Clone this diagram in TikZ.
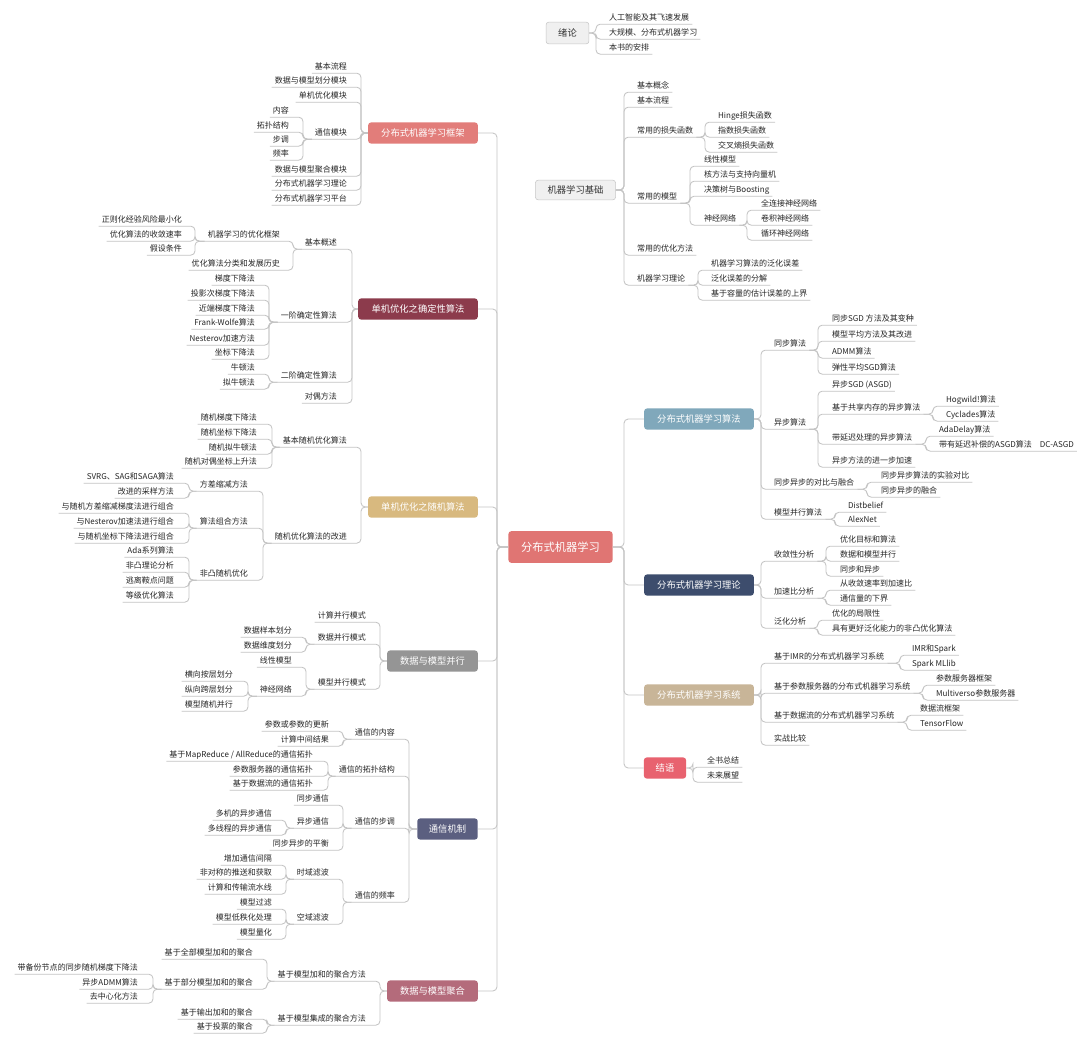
\documentclass[tikz,border=0pt]{standalone}
\usepackage{fontspec}
\setmainfont{Noto Sans CJK SC}
\definecolor{croot}{HTML}{E07573}
\definecolor{cframe}{HTML}{E27D7A}
\definecolor{cdet}{HTML}{8C3B4C}
\definecolor{csto}{HTML}{D8B97F}
\definecolor{cpar}{HTML}{959595}
\definecolor{ccomm}{HTML}{5B5F80}
\definecolor{cagg}{HTML}{B46B7B}
\definecolor{calgo}{HTML}{80A8BB}
\definecolor{ctheory}{HTML}{3D4D6D}
\definecolor{csys}{HTML}{C8B598}
\definecolor{cconcl}{HTML}{E8626F}
\definecolor{cline}{HTML}{C4C4C4}
\tikzset{
  conn/.style={draw=cline, line width=0.6pt, rounded corners=3pt},
  topic/.style={rounded corners=2pt, text=white, font=\fontsize{6.6}{8}\selectfont, minimum height=15pt, inner sep=0pt},
  ftopic/.style={topic, fill=black!6, draw=black!22, text=black!80},
  rleaf/.style={anchor=west, inner xsep=2pt, inner ysep=1.2pt, font=\fontsize{5.7}{6.5}\selectfont, text=black!85, text height=5pt, text depth=1pt},
  lleaf/.style={rleaf, anchor=east},
}
\begin{document}
\begin{tikzpicture}[x={(0.025cm,0)}, y={(0,-0.025cm)}]
  \fill[white] (0,0) rectangle (1080,1046);
  \useasboundingbox (0,0) rectangle (1080,1046);

  % root and main topics
  \node[topic, fill=croot, minimum width=74pt, minimum height=22.5pt, font=\fontsize{8}{9}\selectfont] (root) at (560.5,547) {分布式机器学习};
  \node[topic, fill=cframe, minimum width=78pt] (frame) at (423,133) {分布式机器学习框架};
  \node[topic, fill=cdet, minimum width=85pt] (det) at (418,309) {单机优化之确定性算法};
  \node[topic, fill=csto, minimum width=78pt] (sto) at (423,507) {单机优化之随机算法};
  \node[topic, fill=cpar, minimum width=64.5pt] (par) at (432.5,661) {数据与模型并行};
  \node[topic, fill=ccomm, minimum width=43pt] (comm) at (447.5,829) {通信机制};
  \node[topic, fill=cagg, minimum width=64.5pt] (agg) at (432.5,991) {数据与模型聚合};
  \node[topic, fill=calgo, minimum width=78pt] (algo) at (699,419) {分布式机器学习算法};
  \node[topic, fill=ctheory, minimum width=78pt] (theory) at (699,585) {分布式机器学习理论};
  \node[topic, fill=csys, minimum width=78pt] (system) at (699,695) {分布式机器学习系统};
  \node[topic, fill=cconcl, minimum width=30pt] (concl) at (665,768) {结语};
  \node[ftopic, minimum width=30.5pt, minimum height=15.5pt] (intro) at (567.5,33) {绪论};
  \node[ftopic, minimum width=57pt, minimum height=14pt] (basic) at (575.5,190) {机器学习基础};

  % spines
  \coordinate (sLeft) at (497,0);
  \coordinate (sRight) at (624,0);
  \foreach \t in {frame,det,sto,par,comm,agg}
    \draw[conn] (root.west) -- (root.west -| sLeft) |- (\t.east);
  \foreach \t in {algo,theory,system,concl}
    \draw[conn] (root.east) -- (root.east -| sRight) |- (\t.west);

  % 绪论
  \coordinate (sIntro) at (596,0);
  \node[rleaf] (intro1) at (606,18) {人工智能及其飞速发展};
  \node[rleaf] (intro2) at (606,33) {大规模、分布式机器学习};
  \node[rleaf] (intro3) at (606,48) {本书的安排};
  \foreach \c in {intro1,intro2,intro3}
    \draw[conn] (intro.east) -- (intro.east -| sIntro) |- (\c.south west) -- (\c.south east);

  % 机器学习基础
  \coordinate (sBasic) at (624,0);
  \node[rleaf] (bConcept) at (634,86) {基本概念};
  \node[rleaf] (bFlow) at (634,101) {基本流程};
  \node[rleaf] (bLoss) at (634,131) {常用的损失函数};
  \node[rleaf] (bModel) at (634,197) {常用的模型};
  \node[rleaf] (bOpt) at (634,249) {常用的优化方法};
  \node[rleaf] (bTheory) at (634,279) {机器学习理论};
  \foreach \c in {bConcept,bFlow,bLoss,bModel,bOpt,bTheory}
    \draw[conn] (basic.east) -- (basic.east -| sBasic) |- (\c.south west) -- (\c.south east);
  \coordinate (sLoss) at (705,0);
  \node[rleaf] (lHinge) at (715,116) {Hinge损失函数};
  \node[rleaf] (lExp) at (715,131) {指数损失函数};
  \node[rleaf] (lXent) at (715,146) {交叉熵损失函数};
  \foreach \c in {lHinge,lExp,lXent}
    \draw[conn] (bLoss.south east) -- (bLoss.south east -| sLoss) |- (\c.south west) -- (\c.south east);
  \coordinate (sModel) at (690,0);
  \node[rleaf] (mLin) at (701,160) {线性模型};
  \node[rleaf] (mKernel) at (701,175) {核方法与支持向量机};
  \node[rleaf] (mTree) at (701,190) {决策树与Boosting};
  \node[rleaf] (mNN) at (701,219) {神经网络};
  \foreach \c in {mLin,mKernel,mTree,mNN}
    \draw[conn] (bModel.south east) -- (bModel.south east -| sModel) |- (\c.south west) -- (\c.south east);
  \coordinate (sNN) at (747,0);
  \node[rleaf] (nnFC) at (758,204) {全连接神经网络};
  \node[rleaf] (nnCNN) at (758,219) {卷积神经网络};
  \node[rleaf] (nnRNN) at (758,234) {循环神经网络};
  \foreach \c in {nnFC,nnCNN,nnRNN}
    \draw[conn] (mNN.south east) -- (mNN.south east -| sNN) |- (\c.south west) -- (\c.south east);
  \coordinate (sTheory) at (698,0);
  \node[rleaf] (tGen) at (708,264) {机器学习算法的泛化误差};
  \node[rleaf] (tDec) at (708,279) {泛化误差的分解};
  \node[rleaf] (tBound) at (708,294) {基于容量的估计误差的上界};
  \foreach \c in {tGen,tDec,tBound}
    \draw[conn] (bTheory.south east) -- (bTheory.south east -| sTheory) |- (\c.south west) -- (\c.south east);

  % 分布式机器学习算法
  \coordinate (sAlgo) at (761,0);
  \node[rleaf] (aSync) at (771,344) {同步算法};
  \node[rleaf] (aAsync) at (771,423) {异步算法};
  \node[rleaf] (aCmp) at (771,483) {同步异步的对比与融合};
  \node[rleaf] (aMP) at (771,513) {模型并行算法};
  \foreach \c in {aSync,aAsync,aCmp,aMP}
    \draw[conn] (algo.east) -- (algo.east -| sAlgo) |- (\c.south west) -- (\c.south east);
  \coordinate (sSync) at (818,0);
  \node[rleaf] (sy1) at (829,319) {同步SGD 方法及其变种};
  \node[rleaf] (sy2) at (829,335) {模型平均方法及其改进};
  \node[rleaf] (sy3) at (829,352) {ADMM算法};
  \node[rleaf] (sy4) at (829,368) {弹性平均SGD算法};
  \foreach \c in {sy1,sy2,sy3,sy4}
    \draw[conn] (aSync.south east) -- (aSync.south east -| sSync) |- (\c.south west) -- (\c.south east);
  \node[rleaf] (as1) at (829,385) {异步SGD (ASGD)};
  \node[rleaf] (as2) at (829,408) {基于共享内存的异步算法};
  \node[rleaf] (as3) at (829,438) {带延迟处理的异步算法};
  \node[rleaf] (as4) at (829,461) {异步方法的进一步加速};
  \foreach \c in {as1,as2,as3,as4}
    \draw[conn] (aAsync.south east) -- (aAsync.south east -| sSync) |- (\c.south west) -- (\c.south east);
  \coordinate (sShm) at (933,0);
  \node[rleaf] (hog) at (943,400) {Hogwild!算法};
  \node[rleaf] (cyc) at (943,415) {Cyclades算法};
  \foreach \c in {hog,cyc}
    \draw[conn] (as2.south east) -- (as2.south east -| sShm) |- (\c.south west) -- (\c.south east);
  \coordinate (sDelay) at (926,0);
  \node[rleaf] (adad) at (936,430) {AdaDelay算法};
  \node[rleaf] (dcasgd) at (936,445) {带有延迟补偿的ASGD算法\quad DC-ASGD};
  \foreach \c in {adad,dcasgd}
    \draw[conn] (as3.south east) -- (as3.south east -| sDelay) |- (\c.south west) -- (\c.south east);
  \coordinate (sCmp) at (867,0);
  \node[rleaf] (cmp1) at (878,476) {同步异步算法的实验对比};
  \node[rleaf] (cmp2) at (878,491) {同步异步的融合};
  \foreach \c in {cmp1,cmp2}
    \draw[conn] (aCmp.south east) -- (aCmp.south east -| sCmp) |- (\c.south west) -- (\c.south east);
  \coordinate (sMPA) at (835,0);
  \node[rleaf] (distb) at (845,506) {Distbelief};
  \node[rleaf] (alex) at (845,520) {AlexNet};
  \foreach \c in {distb,alex}
    \draw[conn] (aMP.south east) -- (aMP.south east -| sMPA) |- (\c.south west) -- (\c.south east);

  % 分布式机器学习理论
  \node[rleaf] (thConv) at (771,555) {收敛性分析};
  \node[rleaf] (thSpeed) at (771,592) {加速比分析};
  \node[rleaf] (thGen) at (771,622) {泛化分析};
  \foreach \c in {thConv,thSpeed,thGen}
    \draw[conn] (theory.east) -- (theory.east -| sAlgo) |- (\c.south west) -- (\c.south east);
  \coordinate (sConv) at (826,0);
  \node[rleaf] (cv1) at (837,540) {优化目标和算法};
  \node[rleaf] (cv2) at (837,555) {数据和模型并行};
  \node[rleaf] (cv3) at (837,570) {同步和异步};
  \foreach \c in {cv1,cv2,cv3}
    \draw[conn] (thConv.south east) -- (thConv.south east -| sConv) |- (\c.south west) -- (\c.south east);
  \node[rleaf] (sp1) at (837,584) {从收敛速率到加速比};
  \node[rleaf] (sp2) at (837,599) {通信量的下界};
  \foreach \c in {sp1,sp2}
    \draw[conn] (thSpeed.south east) -- (thSpeed.south east -| sConv) |- (\c.south west) -- (\c.south east);
  \node[rleaf] (gn1) at (829,614) {优化的局限性};
  \node[rleaf] (gn2) at (829,629) {具有更好泛化能力的非凸优化算法};
  \foreach \c in {gn1,gn2}
    \draw[conn] (thGen.south east) -- (thGen.south east -| sSync) |- (\c.south west) -- (\c.south east);

  % 分布式机器学习系统
  \node[rleaf] (syIMR) at (771,657) {基于IMR的分布式机器学习系统};
  \node[rleaf] (syPS) at (771,687) {基于参数服务器的分布式机器学习系统};
  \node[rleaf] (syDF) at (771,716) {基于数据流的分布式机器学习系统};
  \node[rleaf] (syCmp) at (771,739) {实战比较};
  \foreach \c in {syIMR,syPS,syDF,syCmp}
    \draw[conn] (system.east) -- (system.east -| sAlgo) |- (\c.south west) -- (\c.south east);
  \coordinate (sIMR) at (900,0);
  \node[rleaf] (imr1) at (909,649) {IMR和Spark};
  \node[rleaf] (imr2) at (909,664) {Spark MLlib};
  \foreach \c in {imr1,imr2}
    \draw[conn] (syIMR.south east) -- (syIMR.south east -| sIMR) |- (\c.south west) -- (\c.south east);
  \coordinate (sPS) at (923,0);
  \node[rleaf] (ps1) at (933,679) {参数服务器框架};
  \node[rleaf] (ps2) at (933,694) {Multiverso参数服务器};
  \foreach \c in {ps1,ps2}
    \draw[conn] (syPS.south east) -- (syPS.south east -| sPS) |- (\c.south west) -- (\c.south east);
  \coordinate (sDF) at (907,0);
  \node[rleaf] (df1) at (917,709) {数据流框架};
  \node[rleaf] (df2) at (917,724) {TensorFlow};
  \foreach \c in {df1,df2}
    \draw[conn] (syDF.south east) -- (syDF.south east -| sDF) |- (\c.south west) -- (\c.south east);

  % 结语
  \coordinate (sEnd) at (693,0);
  \node[rleaf] (end1) at (704,761) {全书总结};
  \node[rleaf] (end2) at (704,776) {未来展望};
  \foreach \c in {end1,end2}
    \draw[conn] (concl.east) -- (concl.east -| sEnd) |- (\c.south west) -- (\c.south east);

  % 分布式机器学习框架
  \coordinate (sFrame) at (361,0);
  \node[lleaf] (fr1) at (350,67) {基本流程};
  \node[lleaf] (fr2) at (350,81) {数据与模型划分模块};
  \node[lleaf] (fr3) at (350,96) {单机优化模块};
  \node[lleaf] (fr4) at (350,133) {通信模块};
  \node[lleaf] (fr5) at (350,170) {数据与模型聚合模块};
  \node[lleaf] (fr6) at (350,184) {分布式机器学习理论};
  \node[lleaf] (fr7) at (350,199) {分布式机器学习平台};
  \foreach \c in {fr1,fr2,fr3,fr4,fr5,fr6,fr7}
    \draw[conn] (frame.west) -- (frame.west -| sFrame) |- (\c.south east) -- (\c.south west);
  \coordinate (sCommMod) at (303,0);
  \node[lleaf] (cm1) at (292,111) {内容};
  \node[lleaf] (cm2) at (292,126) {拓扑结构};
  \node[lleaf] (cm3) at (292,140) {步调};
  \node[lleaf] (cm4) at (292,154) {频率};
  \foreach \c in {cm1,cm2,cm3,cm4}
    \draw[conn] (fr4.south west) -- (fr4.south west -| sCommMod) |- (\c.south east) -- (\c.south west);

  % 单机优化之确定性算法
  \coordinate (sDet) at (352,0);
  \node[lleaf] (dOver) at (340,243) {基本概述};
  \node[lleaf] (dFirst) at (340,316) {一阶确定性算法};
  \node[lleaf] (dSecond) at (340,376) {二阶确定性算法};
  \node[lleaf] (dDual) at (340,397) {对偶方法};
  \foreach \c in {dOver,dFirst,dSecond,dDual}
    \draw[conn] (det.west) -- (det.west -| sDet) |- (\c.south east) -- (\c.south west);
  \coordinate (sOver) at (293,0);
  \node[lleaf] (ov1) at (283,235) {机器学习的优化框架};
  \node[lleaf] (ov2) at (283,264) {优化算法分类和发展历史};
  \foreach \c in {ov1,ov2}
    \draw[conn] (dOver.south west) -- (dOver.south west -| sOver) |- (\c.south east) -- (\c.south west);
  \coordinate (sOF) at (195,0);
  \node[lleaf] (of1) at (185,220) {正则化经验风险最小化};
  \node[lleaf] (of2) at (185,235) {优化算法的收敛速率};
  \node[lleaf] (of3) at (185,249) {假设条件};
  \foreach \c in {of1,of2,of3}
    \draw[conn] (ov1.south west) -- (ov1.south west -| sOF) |- (\c.south east) -- (\c.south west);
  \coordinate (sFirst) at (269,0);
  \node[lleaf] (fo1) at (258,279) {梯度下降法};
  \node[lleaf] (fo2) at (258,294) {投影次梯度下降法};
  \node[lleaf] (fo3) at (258,309) {近端梯度下降法};
  \node[lleaf] (fo4) at (258,323) {Frank-Wolfe算法};
  \node[lleaf] (fo5) at (258,339) {Nesterov加速方法};
  \node[lleaf] (fo6) at (258,353) {坐标下降法};
  \foreach \c in {fo1,fo2,fo3,fo4,fo5,fo6}
    \draw[conn] (dFirst.south west) -- (dFirst.south west -| sFirst) |- (\c.south east) -- (\c.south west);
  \node[lleaf] (so1) at (258,368) {牛顿法};
  \node[lleaf] (so2) at (258,383) {拟牛顿法};
  \foreach \c in {so1,so2}
    \draw[conn] (dSecond.south west) -- (dSecond.south west -| sFirst) |- (\c.south east) -- (\c.south west);

  % 单机优化之随机算法
  \node[lleaf] (sBase) at (350,441) {基本随机优化算法};
  \node[lleaf] (sImp) at (350,537) {随机优化算法的改进};
  \foreach \c in {sBase,sImp}
    \draw[conn] (sto.west) -- (sto.west -| sFrame) |- (\c.south east) -- (\c.south west);
  \coordinate (sBaseS) at (272,0);
  \node[lleaf] (bs1) at (260,418) {随机梯度下降法};
  \node[lleaf] (bs2) at (260,433) {随机坐标下降法};
  \node[lleaf] (bs3) at (260,448) {随机拟牛顿法};
  \node[lleaf] (bs4) at (260,462) {随机对偶坐标上升法};
  \foreach \c in {bs1,bs2,bs3,bs4}
    \draw[conn] (sBase.south west) -- (sBase.south west -| sBaseS) |- (\c.south east) -- (\c.south west);
  \coordinate (sImpS) at (263,0);
  \node[lleaf] (im1) at (251,485) {方差缩减方法};
  \node[lleaf] (im2) at (251,522) {算法组合方法};
  \node[lleaf] (im3) at (251,574) {非凸随机优化};
  \foreach \c in {im1,im2,im3}
    \draw[conn] (sImp.south west) -- (sImp.south west -| sImpS) |- (\c.south east) -- (\c.south west);
  \coordinate (sVR) at (189,0);
  \node[lleaf] (vr1) at (177,477) {SVRG、SAG和SAGA算法};
  \node[lleaf] (vr2) at (177,492) {改进的采样方法};
  \foreach \c in {vr1,vr2}
    \draw[conn] (im1.south west) -- (im1.south west -| sVR) |- (\c.south east) -- (\c.south west);
  \node[lleaf] (co1) at (177,507) {与随机方差缩减梯度法进行组合};
  \node[lleaf] (co2) at (177,522) {与Nesterov加速法进行组合};
  \node[lleaf] (co3) at (177,537) {与随机坐标下降法进行组合};
  \foreach \c in {co1,co2,co3}
    \draw[conn] (im2.south west) -- (im2.south west -| sVR) |- (\c.south east) -- (\c.south west);
  \node[lleaf] (nc1) at (177,551) {Ada系列算法};
  \node[lleaf] (nc2) at (177,566) {非凸理论分析};
  \node[lleaf] (nc3) at (177,581) {逃离鞍点问题};
  \node[lleaf] (nc4) at (177,596) {等级优化算法};
  \foreach \c in {nc1,nc2,nc3,nc4}
    \draw[conn] (im3.south west) -- (im3.south west -| sVR) |- (\c.south east) -- (\c.south west);

  % 数据与模型并行
  \coordinate (sPar) at (380,0);
  \node[lleaf] (pa1) at (369,616) {计算并行模式};
  \node[lleaf] (pa2) at (369,638) {数据并行模式};
  \node[lleaf] (pa3) at (369,683) {模型并行模式};
  \foreach \c in {pa1,pa2,pa3}
    \draw[conn] (par.west) -- (par.west -| sPar) |- (\c.south east) -- (\c.south west);
  \coordinate (sDP) at (306,0);
  \node[lleaf] (dp1) at (295,631) {数据样本划分};
  \node[lleaf] (dp2) at (295,646) {数据维度划分};
  \foreach \c in {dp1,dp2}
    \draw[conn] (pa2.south west) -- (pa2.south west -| sDP) |- (\c.south east) -- (\c.south west);
  \node[lleaf] (mp1) at (295,661) {线性模型};
  \node[lleaf] (mp2) at (295,690) {神经网络};
  \foreach \c in {mp1,mp2}
    \draw[conn] (pa3.south west) -- (pa3.south west -| sDP) |- (\c.south east) -- (\c.south west);
  \coordinate (sNNP) at (248,0);
  \node[lleaf] (np1) at (236,675) {横向按层划分};
  \node[lleaf] (np2) at (236,690) {纵向跨层划分};
  \node[lleaf] (np3) at (236,705) {模型随机并行};
  \foreach \c in {np1,np2,np3}
    \draw[conn] (mp2.south west) -- (mp2.south west -| sNNP) |- (\c.south east) -- (\c.south west);

  % 通信机制
  \coordinate (sCM) at (409,0);
  \node[lleaf] (cmCont) at (398,733) {通信的内容};
  \node[lleaf] (cmTopo) at (398,770) {通信的拓扑结构};
  \node[lleaf] (cmPace) at (398,822) {通信的步调};
  \node[lleaf] (cmFreq) at (398,896) {通信的频率};
  \foreach \c in {cmCont,cmTopo,cmPace,cmFreq}
    \draw[conn] (comm.west) -- (comm.west -| sCM) |- (\c.south east) -- (\c.south west);
  \coordinate (sCont) at (343,0);
  \node[lleaf] (ct1) at (332,725) {参数或参数的更新};
  \node[lleaf] (ct2) at (332,740) {计算中间结果};
  \foreach \c in {ct1,ct2}
    \draw[conn] (cmCont.south west) -- (cmCont.south west -| sCont) |- (\c.south east) -- (\c.south west);
  \coordinate (sTopo) at (328,0);
  \node[lleaf] (tp1) at (316,755) {基于MapReduce / AllReduce的通信拓扑};
  \node[lleaf] (tp2) at (316,770) {参数服务器的通信拓扑};
  \node[lleaf] (tp3) at (316,784) {基于数据流的通信拓扑};
  \foreach \c in {tp1,tp2,tp3}
    \draw[conn] (cmTopo.south west) -- (cmTopo.south west -| sTopo) |- (\c.south east) -- (\c.south west);
  \node[lleaf] (pc1) at (332,799) {同步通信};
  \node[lleaf] (pc2) at (332,822) {异步通信};
  \node[lleaf] (pc3) at (332,844) {同步异步的平衡};
  \foreach \c in {pc1,pc2,pc3}
    \draw[conn] (cmPace.south west) -- (cmPace.south west -| sCont) |- (\c.south east) -- (\c.south west);
  \coordinate (sAC) at (286,0);
  \node[lleaf] (ac1) at (275,814) {多机的异步通信};
  \node[lleaf] (ac2) at (275,829) {多线程的异步通信};
  \foreach \c in {ac1,ac2}
    \draw[conn] (pc2.south west) -- (pc2.south west -| sAC) |- (\c.south east) -- (\c.south west);
  \node[lleaf] (fq1) at (332,873) {时域滤波};
  \node[lleaf] (fq2) at (332,918) {空域滤波};
  \foreach \c in {fq1,fq2}
    \draw[conn] (cmFreq.south west) -- (cmFreq.south west -| sCont) |- (\c.south east) -- (\c.south west);
  \node[lleaf] (tf1) at (275,859) {增加通信间隔};
  \node[lleaf] (tf2) at (275,873) {非对称的推送和获取};
  \node[lleaf] (tf3) at (275,888) {计算和传输流水线};
  \foreach \c in {tf1,tf2,tf3}
    \draw[conn] (fq1.south west) -- (fq1.south west -| sAC) |- (\c.south east) -- (\c.south west);
  \node[lleaf] (sf1) at (275,903) {模型过滤};
  \node[lleaf] (sf2) at (275,918) {模型低秩化处理};
  \node[lleaf] (sf3) at (275,933) {模型量化};
  \foreach \c in {sf1,sf2,sf3}
    \draw[conn] (fq2.south west) -- (fq2.south west -| sAC) |- (\c.south east) -- (\c.south west);

  % 数据与模型聚合
  \node[lleaf] (agSum) at (369,975) {基于模型加和的聚合方法};
  \node[lleaf] (agEns) at (369,1019) {基于模型集成的聚合方法};
  \foreach \c in {agSum,agEns}
    \draw[conn] (agg.west) -- (agg.west -| sPar) |- (\c.south east) -- (\c.south west);
  \coordinate (sSum) at (267,0);
  \node[lleaf] (su1) at (256,953) {基于全部模型加和的聚合};
  \node[lleaf] (su2) at (256,983) {基于部分模型加和的聚合};
  \foreach \c in {su1,su2}
    \draw[conn] (agSum.south west) -- (agSum.south west -| sSum) |- (\c.south east) -- (\c.south west);
  \coordinate (sPart) at (153,0);
  \node[lleaf] (pt1) at (141,968) {带备份节点的同步随机梯度下降法};
  \node[lleaf] (pt2) at (141,983) {异步ADMM算法};
  \node[lleaf] (pt3) at (141,997) {去中心化方法};
  \foreach \c in {pt1,pt2,pt3}
    \draw[conn] (su2.south west) -- (su2.south west -| sPart) |- (\c.south east) -- (\c.south west);
  \node[lleaf] (en1) at (256,1013) {基于输出加和的聚合};
  \node[lleaf] (en2) at (256,1027) {基于投票的聚合};
  \foreach \c in {en1,en2}
    \draw[conn] (agEns.south west) -- (agEns.south west -| sSum) |- (\c.south east) -- (\c.south west);
\end{tikzpicture}
\end{document}
